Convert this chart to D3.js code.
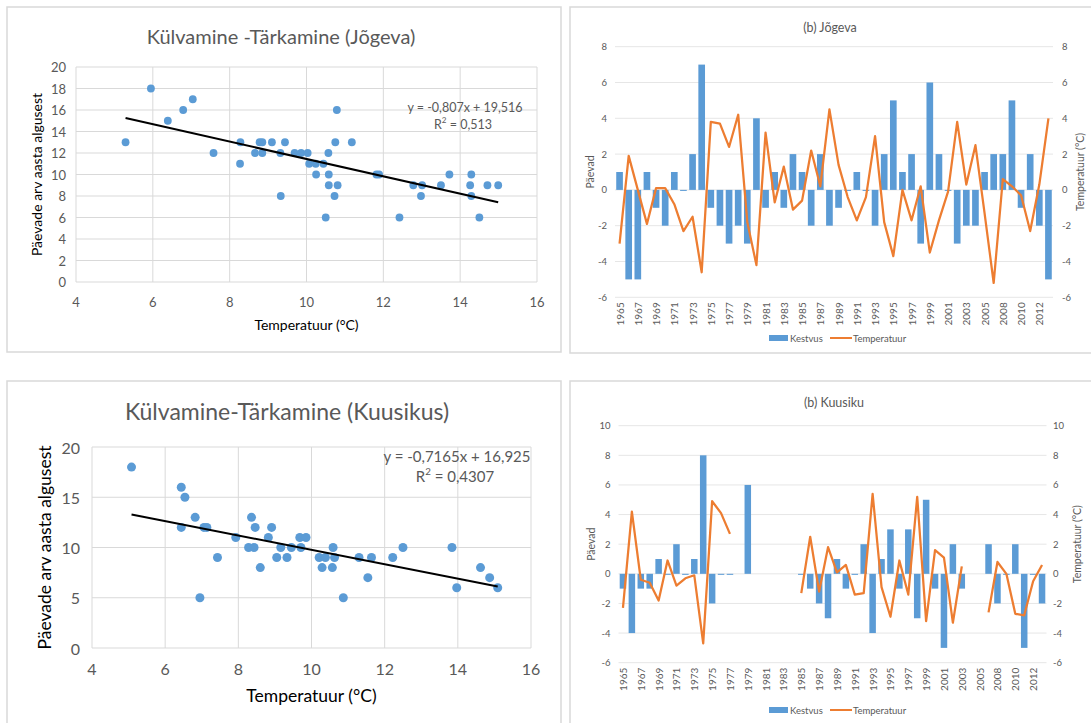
<!DOCTYPE html>
<html>
<head>
<meta charset="utf-8">
<script src="https://cdn.jsdelivr.net/npm/d3@7"></script>
<style>
  body { margin: 0; background: #fff; }
  svg text { font-family: Lato, "Open Sans", sans-serif; }
</style>
</head>
<body>
<svg width="1091" height="723"></svg>
<script>
// scatter data: [temperature, days]
const jogevaPoints = [
  [5.29,13],[5.95,18],[6.39,15],[6.79,16],[7.04,17],[7.58,12],[8.28,13],[8.27,11],
  [8.66,12],[8.78,13],[8.85,13],[8.85,12],[9.1,13],[9.32,12],[9.33,8],[9.44,13],
  [9.69,12],[9.86,12],[10.03,12],[10.07,11],[10.24,11],[10.25,10],[10.44,11],[10.5,6],
  [10.57,12],[10.58,10],[10.58,9],[10.73,8],[10.75,13],[10.79,16],[10.81,9],[11.18,13],
  [11.82,10],[11.89,10],[12.42,6],[12.78,9],[12.98,8],[13.01,9],[13.5,9],[13.72,10],
  [14.26,9],[14.29,10],[14.29,8],[14.5,6],[14.71,9],[14.99,9]
]
const kuusikusPoints = [
  [5.08,18],[6.44,16],[6.54,15],[6.44,12],[6.82,13],[6.95,5],[7.06,12],[7.14,12],
  [7.43,9],[7.93,11],[8.28,10],[8.36,13],[8.43,10],[8.46,12],[8.6,8],[8.82,11],
  [8.91,12],[9.05,9],[9.16,10],[9.33,9],[9.45,10],[9.68,11],[9.71,10],[9.85,11],
  [10.21,9],[10.29,8],[10.38,9],[10.57,8],[10.59,10],[10.63,9],[10.87,5],[11.3,9],
  [11.54,7],[11.64,9],[12.22,9],[12.5,10],[13.84,10],[13.97,6],[14.62,8],[14.87,7],[15.09,6]
]
// trend lines: slope, intercept as printed on the chart
const jogevaTrend = { slope: -0.807, intercept: 19.516, from: 5.29, to: 14.99 }
const kuusikusTrend = { slope: -0.7165, intercept: 16.925, from: 5.08, to: 15.09 }

const tempTicks = [4, 6, 8, 10, 12, 14, 16]
const jogevaDayTicks = [0, 2, 4, 6, 8, 10, 12, 14, 16, 18, 20]
const kuusikusDayTicks = [0, 5, 10, 15, 20]

// anomaly charts
const years = ["1965","1966","1967","1968","1969","1970","1971","1972","1973","1974",
  "1975","1976","1977","1978","1979","1980","1981","1982","1983","1984",
  "1985","1986","1987","1988","1989","1990","1991","1992","1993","1994",
  "1995","1996","1997","1998","1999","2000","2001","2002","2003","2004",
  "2005","2006","2008","2009","2010","2011","2012","2013"]

const jogevaDays = [1,-5,-5,1,-1,-2,1,0,2,7, -1,-2,-3,-2,-3,4,-1,1,-1,2,
  1,-2,2,-2,-1,0,1,0,-2,2, 5,1,2,-3,6,2,0,-3,-2,-2, 1,2,2,5,-1,2,-2,-5]
const jogevaTemp = [-3.0,1.9,0.0,-1.9,0.1,0.1,-0.8,-2.3,-1.5,-4.6, 3.8,3.7,2.4,4.2,-1.8,-4.2,3.2,-0.7,1.3,-1.1,
  -0.6,2.2,0.2,4.5,1.4,-0.4,-1.7,-0.4,3.0,-1.8, -3.7,0.0,-1.7,0.2,-3.5,-1.7,-0.1,3.8,0.3,2.5,
  -1.3,-5.2,0.6,0.2,-0.3,-2.3,0.3,4.0]

const kuusikuDays = [-1,-4,-1,-1,1,0,2,0,1,8, -2,0,0,null,6,null,null,null,null,null,
  0,-1,-2,-3,1,-1,0,2,-4,1, 3,-1,3,-3,5,-1,-5,2,-1,null, null,2,-2,0,2,-5,0,-2]
const kuusikuTemp = [-2.3,4.2,-0.4,-0.6,-1.8,0.9,-0.8,-0.3,-0.1,-4.7, 4.9,4.1,2.7,null,null,null,null,null,null,null,
  -1.3,2.5,-1.2,1.8,0.1,0.6,-1.4,-1.3,5.4,-0.9, -2.9,0.9,-1.4,5.2,-3.2,1.6,1.1,-3.3,0.5,null,
  null,-2.6,0.8,0.0,-2.7,-2.8,-0.5,0.6]

const jogevaTicks = [-6, -4, -2, 0, 2, 4, 6, 8]
const kuusikuTicks = [-6, -4, -2, 0, 2, 4, 6, 8, 10]

const BLUE = "#5b9bd5", ORANGE = "#ed7d31", GRID = "#d9d9d9", LABEL = "#595959"

const svg = d3.select("svg")

// panel frames
const frames = [[7, 7, 554, 345], [7, 381, 554, 400], [570, 7, 600, 346], [570, 381, 600, 400]]
svg.selectAll("rect.frame").data(frames).enter().append("rect")
  .attr("class", "frame")
  .attr("x", d => d[0]).attr("y", d => d[1])
  .attr("width", d => d[2]).attr("height", d => d[3])
  .attr("fill", "none").attr("stroke", GRID).attr("stroke-width", 1.5)


function drawScatter(o) {
  const g = svg.append("g")
  const x = d3.scaleLinear().domain([4, 16]).range([o.left, o.right])
  const y = d3.scaleLinear().domain([0, 20]).range([o.bottom, o.top])

  g.selectAll(".vg").data(tempTicks).enter().append("line")
    .attr("x1", d => x(d)).attr("x2", d => x(d))
    .attr("y1", o.top).attr("y2", o.bottom)
    .attr("stroke", GRID).attr("stroke-width", 1)
  g.selectAll(".hg").data(o.yTicks).enter().append("line")
    .attr("x1", o.left).attr("x2", o.right)
    .attr("y1", d => y(d)).attr("y2", d => y(d))
    .attr("stroke", GRID).attr("stroke-width", 1)

  g.selectAll(".xl").data(tempTicks).enter().append("text")
    .attr("x", d => x(d)).attr("y", o.bottom + o.tickGap)
    .attr("text-anchor", "middle").attr("dominant-baseline", "central")
    .attr("font-size", o.tickSize).attr("fill", LABEL).text(d => d)
  g.selectAll(".yl").data(o.yTicks).enter().append("text")
    .attr("x", o.left - o.yTickGap).attr("y", d => y(d))
    .attr("text-anchor", "end").attr("dominant-baseline", "central")
    .attr("font-size", o.tickSize).attr("fill", LABEL).text(d => d)

  g.selectAll("circle").data(o.points).enter().append("circle")
    .attr("cx", d => x(d[0])).attr("cy", d => y(d[1]))
    .attr("r", o.r).attr("fill", BLUE)

  const t = o.trend
  g.append("line")
    .attr("x1", x(t.from)).attr("y1", y(t.slope * t.from + t.intercept))
    .attr("x2", x(t.to)).attr("y2", y(t.slope * t.to + t.intercept))
    .attr("stroke", "#000").attr("stroke-width", 2)

  g.append("text").attr("x", o.titleX).attr("y", o.titleY)
    .attr("text-anchor", "middle").attr("dominant-baseline", "central")
    .attr("font-size", o.titleSize).attr("fill", LABEL).text(o.title)
  g.append("text").attr("x", (o.left + o.right) / 2 + o.xTitleShift).attr("y", o.xTitleY)
    .attr("text-anchor", "middle").attr("dominant-baseline", "central")
    .attr("font-size", o.axisTitleSize).attr("fill", "#000").text("Temperatuur (°C)")
  g.append("text")
    .attr("transform", "translate(" + o.yTitleX + "," + (o.top + o.bottom) / 2 + ") rotate(-90)")
    .attr("text-anchor", "middle").attr("dominant-baseline", "central")
    .attr("font-size", o.axisTitleSize).attr("fill", "#000").text("Päevade arv aasta algusest")

  const fmt = v => String(v).replace(".", ",")
  const eq = g.append("text").attr("x", o.eqX).attr("y", o.eqY)
    .attr("text-anchor", "middle").attr("dominant-baseline", "central")
    .attr("font-size", o.eqSize).attr("fill", LABEL)
  eq.text("y = " + fmt(t.slope) + "x + " + fmt(t.intercept))
  const r2 = g.append("text").attr("x", o.eqX - 2).attr("y", o.eqY + o.eqSize * 1.35)
    .attr("text-anchor", "middle").attr("dominant-baseline", "central")
    .attr("font-size", o.eqSize).attr("fill", LABEL)
  r2.append("tspan").text("R")
  r2.append("tspan").attr("font-size", o.eqSize * 0.65).attr("dy", -o.eqSize * 0.35).text("2")
  r2.append("tspan").attr("dy", o.eqSize * 0.35).text(" = " + fmt(o.r2))
}


function drawBars(o) {
  const g = svg.append("g")
  const x = d3.scaleBand().domain(years).range([o.left, o.right])
    .paddingInner(0.27).paddingOuter(0.135)
  const y = d3.scaleLinear().domain(o.domain).range([o.bottom, o.top])

  g.selectAll(".hg").data(o.ticks).enter().append("line")
    .attr("x1", o.left).attr("x2", o.right)
    .attr("y1", d => y(d)).attr("y2", d => y(d))
    .attr("stroke", "#e6e6e6").attr("stroke-width", 1)

  g.selectAll(".ll").data(o.ticks).enter().append("text")
    .attr("x", o.left - 8).attr("y", d => y(d))
    .attr("text-anchor", "end").attr("dominant-baseline", "central")
    .attr("font-size", 9.5).attr("fill", LABEL).text(d => d)
  g.selectAll(".rl").data(o.ticks).enter().append("text")
    .attr("x", o.rightLabelX).attr("y", d => y(d))
    .attr("text-anchor", "start").attr("dominant-baseline", "central")
    .attr("font-size", 9.5).attr("fill", LABEL).text(d => d)

  const bars = years.map((yr, i) => ({ yr: yr, v: o.days[i] })).filter(d => d.v != null)
  g.selectAll(".bar").data(bars).enter().append("rect")
    .attr("x", d => x(d.yr)).attr("width", x.bandwidth())
    .attr("y", d => y(Math.max(0, d.v)))
    .attr("height", d => Math.max(1, Math.abs(y(d.v) - y(0))))
    .attr("fill", BLUE)

  const pts = years.map((yr, i) => ({ yr: yr, t: o.temp[i] }))
  const line = d3.line()
    .defined(d => d.t != null)
    .x(d => x(d.yr) + x.bandwidth() / 2)
    .y(d => y(d.t))
  g.append("path").datum(pts).attr("d", line)
    .attr("fill", "none").attr("stroke", ORANGE).attr("stroke-width", 2.25)
    .attr("stroke-linejoin", "round")

  g.selectAll(".yr").data(years.filter((d, i) => i % 2 === 0)).enter().append("text")
    .attr("transform", d => "translate(" + (x(d) + x.bandwidth() / 2) + "," + (o.bottom + 5) + ") rotate(-90)")
    .attr("text-anchor", "end").attr("dominant-baseline", "central")
    .attr("font-size", 10).attr("fill", LABEL).text(d => d)

  g.append("text").attr("x", o.titleX).attr("y", o.titleY)
    .attr("text-anchor", "middle").attr("dominant-baseline", "central")
    .attr("font-size", 12.5).attr("fill", LABEL).text(o.title)

  const mid = (o.top + o.bottom) / 2
  g.append("text")
    .attr("transform", "translate(" + o.leftTitleX + "," + mid + ") rotate(-90)")
    .attr("text-anchor", "middle").attr("dominant-baseline", "central")
    .attr("font-size", 10.5).attr("fill", LABEL).text("Päevad")
  g.append("text")
    .attr("transform", "translate(" + o.rightTitleX + "," + mid + ") rotate(-90)")
    .attr("text-anchor", "middle").attr("dominant-baseline", "central")
    .attr("font-size", 10.5).attr("fill", LABEL).text("Temperatuur (°C)")

  // legend
  g.append("rect").attr("x", 769).attr("y", o.legendY - 3).attr("width", 19).attr("height", 6).attr("fill", BLUE)
  g.append("text").attr("x", 790).attr("y", o.legendY).attr("dominant-baseline", "central")
    .attr("font-size", 9.5).attr("fill", LABEL).text("Kestvus")
  g.append("line").attr("x1", 830).attr("x2", 852).attr("y1", o.legendY).attr("y2", o.legendY)
    .attr("stroke", ORANGE).attr("stroke-width", 2)
  g.append("text").attr("x", 853).attr("y", o.legendY).attr("dominant-baseline", "central")
    .attr("font-size", 9.5).attr("fill", LABEL).text("Temperatuur")
}


drawScatter({
  left: 76, right: 537, top: 67, bottom: 282,
  yTicks: jogevaDayTicks, points: jogevaPoints, trend: jogevaTrend, r2: 0.513, r: 3.9,
  tickSize: 13, tickGap: 20, yTickGap: 10,
  title: "Külvamine -Tärkamine (Jõgeva)", titleX: 281, titleY: 36, titleSize: 20,
  axisTitleSize: 14, xTitleShift: 0, xTitleY: 324, yTitleX: 36,
  eqX: 465, eqY: 107, eqSize: 12.5
})

drawScatter({
  left: 92, right: 531, top: 447, bottom: 648,
  yTicks: kuusikusDayTicks, points: kuusikusPoints, trend: kuusikusTrend, r2: 0.4307, r: 4.5,
  tickSize: 16, tickGap: 20, yTickGap: 12,
  title: "Külvamine-Tärkamine (Kuusikus)", titleX: 287, titleY: 411, titleSize: 23,
  axisTitleSize: 17.5, xTitleShift: 0, xTitleY: 695, yTitleX: 44,
  eqX: 457, eqY: 456, eqSize: 15
})

drawBars({
  left: 615, right: 1053, top: 46.7, bottom: 297.3, domain: [-6, 8],
  ticks: jogevaTicks, days: jogevaDays, temp: jogevaTemp,
  title: "(b) Jõgeva", titleX: 830, titleY: 27,
  rightLabelX: 1062, leftTitleX: 590, rightTitleX: 1080, legendY: 338
})

drawBars({
  left: 618.5, right: 1046.5, top: 425.7, bottom: 662.7, domain: [-6, 10],
  ticks: kuusikuTicks, days: kuusikuDays, temp: kuusikuTemp,
  title: "(b) Kuusiku", titleX: 834, titleY: 402,
  rightLabelX: 1053, leftTitleX: 591, rightTitleX: 1077, legendY: 710
})
</script>
</body>
</html>
